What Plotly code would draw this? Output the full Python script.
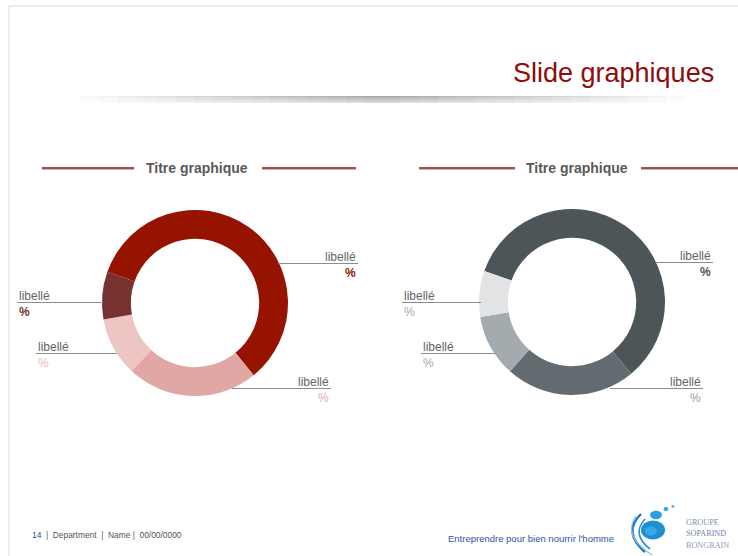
import plotly.graph_objects as go

W, H = 738, 556

# ---------------- data ----------------
labels = ["libellé", "libellé", "libellé", "libellé"]
values_left = [58.7, 22.8, 10.2, 8.3]
values_right = [58.6, 22.6, 10.8, 8.0]
colors_left = ["#961300", "#E1A7A5", "#EDC5C3", "#76322E"]
colors_right = ["#4D5558", "#626B6F", "#A4ABAE", "#E2E3E4"]
chart_titles = ["Titre graphique", "Titre graphique"]
page_title = "Slide graphiques"
pct_text = "%"


def px(x):
    return x / W


def py(y):
    return 1 - y / H


fig = go.Figure()

def add_donut(values, colors, cx, cy, r, rot):
    fig.add_trace(go.Pie(
        labels=[f"{l} {i}" for i, l in enumerate(labels)],
        values=values,
        marker=dict(colors=colors, line=dict(width=0)),
        hole=0.69,
        sort=False,
        direction="clockwise",
        rotation=rot,
        textinfo="none",
        hoverinfo="skip",
        showlegend=False,
        domain=dict(x=[px(cx - r), px(cx + r)], y=[py(cy + r), py(cy - r)]),
    ))

add_donut(values_left, colors_left, 195, 303, 93, -70.4)
add_donut(values_right, colors_right, 572, 302, 93, -70.5)

shapes = []
annotations = []

def line(x0, y0, x1, y1, color, width=1, opacity=1.0):
    shapes.append(dict(type="line", xref="paper", yref="paper",
                       x0=px(x0), y0=py(y0), x1=px(x1), y1=py(y1),
                       line=dict(color=color, width=width), opacity=opacity, layer="above"))

def text(x, y, s, size, color, anchor="left", bold=False, family="Liberation Sans"):
    if bold:
        s = f"<b>{s}</b>"
    annotations.append(dict(xref="paper", yref="paper", x=px(x), y=py(y), text=s,
                            showarrow=False, xanchor=anchor, yanchor="middle",
                            font=dict(size=size, color=color, family=family)))

# slide border
line(9, 6, 738, 6, "#E6E6E6", 1.5)
line(9, 6, 9, 556, "#E6E6E6", 1.5)

# page title
text(716, 73, page_title, 27, "#8E0C0C", anchor="right")

# shadow under the title
for k in range(16):
    for row in range(7):
        line(80 + k * 19, 96.5 + row, 685 - k * 19, 96.5 + row, "#000000", 1,
             opacity=0.018 * (1 - row / 7.5))

# chart titles with red rules
for (l0, l1, tx, r0, r1) in [(42, 134, 197, 262, 356), (419, 515, 577, 641, 738)]:
    for a, b in [(l0, l1), (r0, r1)]:
        line(a, 169.3, b, 169.3, "#B0A0A0", 1)
        line(a, 168, b, 168, "#8E1A1A", 1.5)
text(197, 168, chart_titles[0], 14, "#595959", anchor="center", bold=True)
text(577, 168, chart_titles[1], 14, "#595959", anchor="center", bold=True)

# leader labels
lab_color = "#666666"
lead_color = "#8C8C8C"

def label(xl, xr, y, side, pct_color, bold_pct):
    line(xl, y, xr, y, lead_color, 1.2)
    if side == "right":
        text(xr, y - 6.5, labels[0], 12, lab_color, anchor="right")
        text(xr, y + 9.5, pct_text, 12, pct_color, anchor="right", bold=bold_pct)
    else:
        text(xl, y - 6.5, labels[0], 12, lab_color, anchor="left")
        text(xl, y + 9.5, pct_text, 12, pct_color, anchor="left", bold=bold_pct)

# left donut
label(278, 358, 263.5, "right", colors_left[0], True)
label(17, 103, 302.5, "left", colors_left[3], True)
label(36, 117, 353.5, "left", "#E8B8B5", False)
label(232, 331, 388.5, "right", colors_left[1], False)
# right donut
label(656, 713, 262.5, "right", colors_right[0], True)
label(402, 481, 302.5, "left", colors_right[2], False)
label(421, 495, 353.5, "left", colors_right[2], False)
label(610, 703, 388.5, "right", "#999FA3", False)

# footer
annotations.append(dict(xref="paper", yref="paper", x=px(30), y=py(535),
                        text="<span style='color:#1F4E9A'>14</span>  |  Department  |  Name |  00/00/0000",
                        showarrow=False, xanchor="left", yanchor="middle",
                        font=dict(size=8.4, color="#555555", family="Liberation Sans")))
text(616, 538.5, "Entreprendre pour bien nourrir l'homme", 9.5, "#2E56A6", anchor="right")

# logo
def circ(cx, cy, rx, ry, color):
    shapes.append(dict(type="circle", xref="paper", yref="paper",
                       x0=px(cx - rx), x1=px(cx + rx), y0=py(cy + ry), y1=py(cy - ry),
                       fillcolor=color, line=dict(width=0), layer="above"))

def path(d, color, width):
    shapes.append(dict(type="path", xref="paper", yref="paper", path=d,
                       line=dict(color=color, width=width), layer="above"))

def P(x, y):
    return f"{px(x):.5f},{py(y):.5f}"

path(f"M {P(641,514)} Q {P(622,532)} {P(645,552)}", "#1D6FB8", 2.4)
path(f"M {P(645,519)} Q {P(631,534)} {P(650,549)}", "#2A8FD0", 1.6)
path(f"M {P(636,516)} Q {P(622,536)} {P(652,555)}", "#8CC4EA", 1.2)
circ(653, 530, 12, 9.5, "#1E8FD5")
circ(651, 531, 6, 4.5, "#3AA8E4")
circ(656, 515, 6, 4.2, "#2AA0DE")
circ(666, 509, 2.4, 2, "#2AA5E0")
circ(673, 506.5, 1.6, 1.4, "#5BB9E8")
text(684, 522, "GROUPE", 8.2, "#7D8FAE", family="Liberation Serif")
text(684, 533, "SOPARIND", 8.2, "#6F86AA", family="Liberation Serif")
text(684, 545, "BONGRAIN", 8.2, "#8FA0BA", family="Liberation Serif")

fig.update_layout(
    width=W, height=H,
    margin=dict(l=0, r=0, t=0, b=0),
    paper_bgcolor="white", plot_bgcolor="white",
    shapes=shapes, annotations=annotations,
    font=dict(family="Liberation Sans"),
)

fig.write_html("out.html", config={"displayModeBar": False},
               post_script="document.body.style.margin='0';document.body.style.overflow='hidden';")
